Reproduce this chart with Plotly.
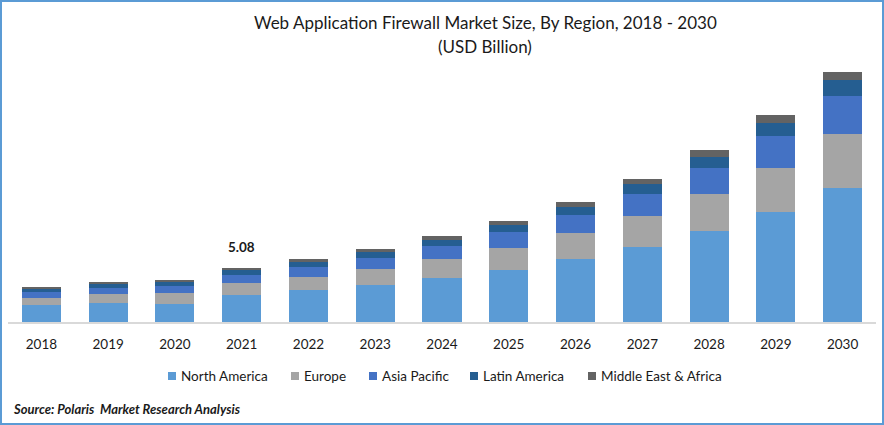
import plotly.graph_objects as go

WIDTH = 884
HEIGHT = 425
LEFT, RIGHT, TOP, BOTTOM = 8, 8, 60, 103

years = ["2018", "2019", "2020", "2021", "2022", "2023", "2024",
         "2025", "2026", "2027", "2028", "2029", "2030"]

# values, 2021 total is the labelled 5.08
north_america = [1.60, 1.79, 1.69, 2.54, 3.01, 3.48, 4.14, 4.89, 5.93, 7.06, 8.56, 10.35, 12.61]
europe = [0.66, 0.85, 1.04, 1.13, 1.22, 1.51, 1.79, 2.07, 2.45, 2.92, 3.48, 4.14, 5.08]
asia_pacific = [0.56, 0.56, 0.66, 0.75, 0.94, 1.04, 1.22, 1.51, 1.69, 2.07, 2.45, 3.01, 3.58]
latin_america = [0.28, 0.38, 0.38, 0.47, 0.47, 0.56, 0.56, 0.66, 0.75, 0.94, 1.04, 1.22, 1.51]
middle_east_africa = [0.19, 0.19, 0.19, 0.19, 0.28, 0.28, 0.38, 0.38, 0.47, 0.47, 0.66, 0.75, 0.75]

region_names = ["North America", "Europe", "Asia Pacific", "Latin America", "Middle East & Africa"]
region_values = [north_america, europe, asia_pacific, latin_america, middle_east_africa]
region_colors = ["#5b9bd5", "#a5a5a5", "#4472c4", "#255e91", "#636363"]

FONT = "Lato"
TEXT = "#1a1a1a"


def px_x(px):
    # pixel from the left of the page -> paper fraction (paper is the plot area)
    return (px - LEFT) / (WIDTH - LEFT - RIGHT)


def px_y(py):
    # pixel from the top of the page -> paper fraction
    return (HEIGHT - BOTTOM - py) / (HEIGHT - TOP - BOTTOM)


fig = go.Figure()
for name, values, color in zip(region_names, region_values, region_colors):
    fig.add_trace(go.Bar(x=years, y=values, name=name, marker=dict(color=color, line_width=0)))

# legend spacing in the original is tighter than plotly's own legend allows,
# so it is drawn by hand: left edge of each swatch in pixels
legend_x = [168, 291, 369, 470, 588]
shapes = [dict(type="rect", xref="paper", yref="paper", x0=px_x(1), x1=px_x(WIDTH - 1),
               y0=px_y(HEIGHT - 1), y1=px_y(1), line=dict(color="#5b9bd5", width=2))]
annotations = []
for name, color, px in zip(region_names, region_colors, legend_x):
    shapes.append(dict(type="rect", xref="paper", yref="paper", x0=px_x(px), x1=px_x(px + 8),
                       y0=px_y(380), y1=px_y(372), fillcolor=color, line_width=0))
    annotations.append(dict(text=name, xref="paper", yref="paper", x=px_x(px + 11), y=px_y(376),
                            xanchor="left", yanchor="middle", showarrow=False,
                            font=dict(size=13.5, color=TEXT)))

annotations += [
    # annotation x on a category axis is the category index, not its label
    dict(text="5.08", x=years.index("2021"), y=5.08, yshift=21, yanchor="middle", showarrow=False,
         font=dict(size=13.5, color=TEXT, weight="bold")),
    dict(text="Web Application Firewall Market Size, By Region, 2018 - 2030", xref="paper", yref="paper",
         x=px_x(485), y=px_y(22), yanchor="middle", showarrow=False,
         font=dict(size=17, color=TEXT)),
    dict(text="(USD Billion)", xref="paper", yref="paper",
         x=px_x(485), y=px_y(46), yanchor="middle", showarrow=False,
         font=dict(size=17, color=TEXT)),
    dict(text="Source: Polaris  Market Research Analysis", xref="paper", yref="paper",
         x=px_x(11), y=px_y(409), xanchor="left", yanchor="middle", showarrow=False,
         font=dict(size=13, color=TEXT, weight="bold", style="italic")),
]

fig.update_layout(
    width=WIDTH, height=HEIGHT,
    margin=dict(l=LEFT, r=RIGHT, t=TOP, b=BOTTOM),
    barmode="stack", bargap=0.415,
    showlegend=False,
    paper_bgcolor="white", plot_bgcolor="white",
    font=dict(family=FONT, color=TEXT),
    shapes=shapes, annotations=annotations,
)
fig.update_xaxes(type="category", showline=True, linecolor="#d9d9d9", linewidth=1.5,
                 ticks="outside", ticklen=9, tickcolor="rgba(0,0,0,0)",
                 tickfont=dict(size=13.5, color=TEXT), showgrid=False)
# 0.0941 units per pixel, same scale the values were read with
fig.update_yaxes(visible=False, range=[0, 262 * 0.0941], showgrid=False, zeroline=False)

fig.write_html("out.html", config=dict(displayModeBar=False),
               post_script="document.body.style.margin='0';")
